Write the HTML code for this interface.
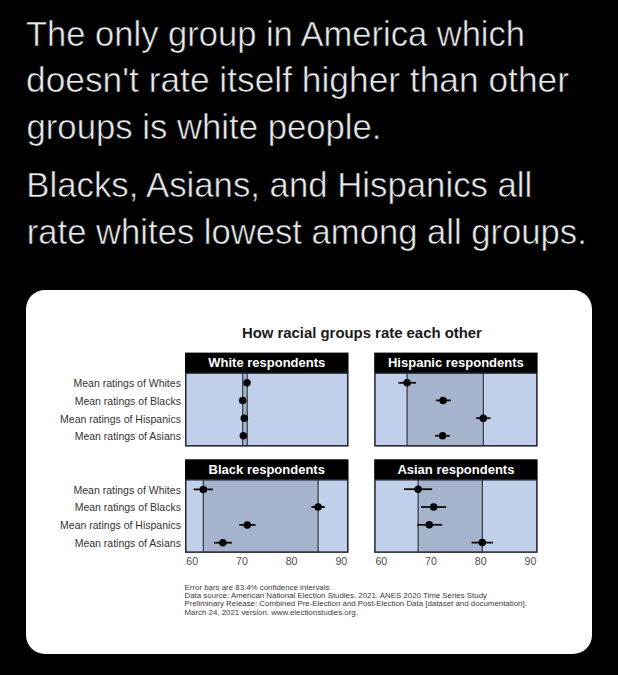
<!DOCTYPE html>
<html><head><meta charset="utf-8"><style>
html,body{margin:0;padding:0;background:#000;width:618px;height:675px;overflow:hidden}
svg{position:absolute;left:0;top:0;font-family:'Liberation Sans',sans-serif}
text{font-family:'Liberation Sans',sans-serif}
</style></head><body>
<svg width="618" height="675" viewBox="0 0 618 675">
<text x="26.0" y="45.5" textLength="499" lengthAdjust="spacingAndGlyphs" style="font-size:35.3px;fill:#e7e9ea;stroke:#000;stroke-width:0.55px">The only group in America which</text>
<text x="26.0" y="92.0" textLength="543" lengthAdjust="spacingAndGlyphs" style="font-size:35.3px;fill:#e7e9ea;stroke:#000;stroke-width:0.55px">doesn't rate itself higher than other</text>
<text x="26.5" y="138.5" textLength="355" lengthAdjust="spacingAndGlyphs" style="font-size:35.3px;fill:#e7e9ea;stroke:#000;stroke-width:0.55px">groups is white people.</text>
<text x="26.3" y="197.1" textLength="506" lengthAdjust="spacingAndGlyphs" style="font-size:35.3px;fill:#e7e9ea;stroke:#000;stroke-width:0.55px">Blacks, Asians, and Hispanics all</text>
<text x="26.8" y="244.0" textLength="560" lengthAdjust="spacingAndGlyphs" style="font-size:35.3px;fill:#e7e9ea;stroke:#000;stroke-width:0.55px">rate whites lowest among all groups.</text>
<rect x="26" y="290" width="566" height="364" rx="19" ry="19" fill="#fff"/>
<text x="361.9" y="338.2" text-anchor="middle" style="font-size:14.9px;font-weight:bold;fill:#1a1a1a">How racial groups rate each other</text>
<rect x="185.0" y="352.6" width="163.5" height="20.5" fill="#000"/>
<text x="266.75" y="366.90000000000003" text-anchor="middle" style="font-size:13px;font-weight:bold;fill:#fff">White respondents</text>
<rect x="185.0" y="373.1" width="163.5" height="73.5" fill="#c1d0ea"/>
<rect x="242.7" y="373.1" width="4.5" height="73.5" fill="#a5b3cc"/>
<line x1="242.7" y1="373.1" x2="242.7" y2="445.6" stroke="#262b36" stroke-width="1.1"/>
<line x1="247.2" y1="373.1" x2="247.2" y2="445.6" stroke="#262b36" stroke-width="1.1"/>
<rect x="185.75" y="373.1" width="162.0" height="72.7" fill="none" stroke="#23262f" stroke-width="1.5"/>
<line x1="245" y1="382.8" x2="249" y2="382.8" stroke="#000" stroke-width="1.7"/>
<circle cx="247.0" cy="382.8" r="3.75" fill="#000"/>
<line x1="241" y1="400.6" x2="244.5" y2="400.6" stroke="#000" stroke-width="1.7"/>
<circle cx="242.7" cy="400.6" r="3.75" fill="#000"/>
<line x1="242.5" y1="418.3" x2="246" y2="418.3" stroke="#000" stroke-width="1.7"/>
<circle cx="244.3" cy="418.3" r="3.75" fill="#000"/>
<line x1="241.5" y1="435.8" x2="245" y2="435.8" stroke="#000" stroke-width="1.7"/>
<circle cx="243.3" cy="435.8" r="3.75" fill="#000"/>
<rect x="374.2" y="352.6" width="163.40000000000003" height="20.5" fill="#000"/>
<text x="455.9" y="366.90000000000003" text-anchor="middle" style="font-size:13px;font-weight:bold;fill:#fff">Hispanic respondents</text>
<rect x="374.2" y="373.1" width="163.40000000000003" height="73.5" fill="#c1d0ea"/>
<rect x="407.1" y="373.1" width="76.19999999999999" height="73.5" fill="#a5b3cc"/>
<line x1="407.1" y1="373.1" x2="407.1" y2="445.6" stroke="#262b36" stroke-width="1.1"/>
<line x1="483.3" y1="373.1" x2="483.3" y2="445.6" stroke="#262b36" stroke-width="1.1"/>
<rect x="374.95" y="373.1" width="161.90000000000003" height="72.7" fill="none" stroke="#23262f" stroke-width="1.5"/>
<line x1="398.4" y1="382.8" x2="415.9" y2="382.8" stroke="#000" stroke-width="1.7"/>
<circle cx="407.1" cy="382.8" r="3.75" fill="#000"/>
<line x1="435.8" y1="400.4" x2="450.8" y2="400.4" stroke="#000" stroke-width="1.7"/>
<circle cx="443.1" cy="400.4" r="3.75" fill="#000"/>
<line x1="476.0" y1="418.2" x2="490.6" y2="418.2" stroke="#000" stroke-width="1.7"/>
<circle cx="483.3" cy="418.2" r="3.75" fill="#000"/>
<line x1="435.0" y1="435.8" x2="450.0" y2="435.8" stroke="#000" stroke-width="1.7"/>
<circle cx="442.6" cy="435.8" r="3.75" fill="#000"/>
<rect x="185.0" y="459.3" width="163.5" height="20.5" fill="#000"/>
<text x="266.75" y="473.6" text-anchor="middle" style="font-size:13px;font-weight:bold;fill:#fff">Black respondents</text>
<rect x="185.0" y="479.8" width="163.5" height="73.09999999999997" fill="#c1d0ea"/>
<rect x="203.3" y="479.8" width="114.80000000000001" height="73.09999999999997" fill="#a5b3cc"/>
<line x1="203.3" y1="479.8" x2="203.3" y2="551.9" stroke="#262b36" stroke-width="1.1"/>
<line x1="318.1" y1="479.8" x2="318.1" y2="551.9" stroke="#262b36" stroke-width="1.1"/>
<rect x="185.75" y="479.8" width="162.0" height="72.29999999999997" fill="none" stroke="#23262f" stroke-width="1.5"/>
<line x1="193.7" y1="489.4" x2="213.0" y2="489.4" stroke="#000" stroke-width="1.7"/>
<circle cx="203.3" cy="489.4" r="3.75" fill="#000"/>
<line x1="311.4" y1="507.0" x2="325.0" y2="507.0" stroke="#000" stroke-width="1.7"/>
<circle cx="318.1" cy="507.0" r="3.75" fill="#000"/>
<line x1="239.2" y1="524.9" x2="255.5" y2="524.9" stroke="#000" stroke-width="1.7"/>
<circle cx="247.3" cy="524.9" r="3.75" fill="#000"/>
<line x1="214.0" y1="542.7" x2="232.0" y2="542.7" stroke="#000" stroke-width="1.7"/>
<circle cx="222.9" cy="542.7" r="3.75" fill="#000"/>
<rect x="374.2" y="459.3" width="163.40000000000003" height="20.5" fill="#000"/>
<text x="455.9" y="473.6" text-anchor="middle" style="font-size:13px;font-weight:bold;fill:#fff">Asian respondents</text>
<rect x="374.2" y="479.8" width="163.40000000000003" height="73.09999999999997" fill="#c1d0ea"/>
<rect x="418.1" y="479.8" width="64.19999999999999" height="73.09999999999997" fill="#a5b3cc"/>
<line x1="418.1" y1="479.8" x2="418.1" y2="551.9" stroke="#262b36" stroke-width="1.1"/>
<line x1="482.3" y1="479.8" x2="482.3" y2="551.9" stroke="#262b36" stroke-width="1.1"/>
<rect x="374.95" y="479.8" width="161.90000000000003" height="72.29999999999997" fill="none" stroke="#23262f" stroke-width="1.5"/>
<line x1="404.0" y1="489.2" x2="432.2" y2="489.2" stroke="#000" stroke-width="1.7"/>
<circle cx="418.1" cy="489.2" r="3.75" fill="#000"/>
<line x1="421.0" y1="507.0" x2="446.2" y2="507.0" stroke="#000" stroke-width="1.7"/>
<circle cx="433.6" cy="507.0" r="3.75" fill="#000"/>
<line x1="417.0" y1="524.8" x2="442.1" y2="524.8" stroke="#000" stroke-width="1.7"/>
<circle cx="429.2" cy="524.8" r="3.75" fill="#000"/>
<line x1="471.5" y1="542.6" x2="493.0" y2="542.6" stroke="#000" stroke-width="1.7"/>
<circle cx="482.3" cy="542.6" r="3.75" fill="#000"/>
<text x="180.9" y="387.3" text-anchor="end" style="font-size:10.5px;fill:#333">Mean ratings of Whites</text>
<text x="180.9" y="493.8" text-anchor="end" style="font-size:10.5px;fill:#333">Mean ratings of Whites</text>
<text x="180.9" y="404.9" text-anchor="end" style="font-size:10.5px;fill:#333">Mean ratings of Blacks</text>
<text x="180.9" y="511.4" text-anchor="end" style="font-size:10.5px;fill:#333">Mean ratings of Blacks</text>
<text x="180.9" y="422.5" text-anchor="end" style="font-size:10.5px;fill:#333">Mean ratings of Hispanics</text>
<text x="180.9" y="529.0" text-anchor="end" style="font-size:10.5px;fill:#333">Mean ratings of Hispanics</text>
<text x="180.9" y="440.1" text-anchor="end" style="font-size:10.5px;fill:#333">Mean ratings of Asians</text>
<text x="180.9" y="546.6" text-anchor="end" style="font-size:10.5px;fill:#333">Mean ratings of Asians</text>
<text x="192.2" y="565.2" text-anchor="middle" style="font-size:10.6px;fill:#4d4d4d">60</text>
<text x="241.9" y="565.2" text-anchor="middle" style="font-size:10.6px;fill:#4d4d4d">70</text>
<text x="291.6" y="565.2" text-anchor="middle" style="font-size:10.6px;fill:#4d4d4d">80</text>
<text x="341.3" y="565.2" text-anchor="middle" style="font-size:10.6px;fill:#4d4d4d">90</text>
<text x="381.3" y="565.2" text-anchor="middle" style="font-size:10.6px;fill:#4d4d4d">60</text>
<text x="431.0" y="565.2" text-anchor="middle" style="font-size:10.6px;fill:#4d4d4d">70</text>
<text x="480.7" y="565.2" text-anchor="middle" style="font-size:10.6px;fill:#4d4d4d">80</text>
<text x="530.4" y="565.2" text-anchor="middle" style="font-size:10.6px;fill:#4d4d4d">90</text>
<text x="184.5" y="589.6" style="font-size:7.88px;fill:#3a3a3a">Error bars are 83.4% confidence intervals</text>
<text x="184.5" y="598.0" style="font-size:7.88px;fill:#3a3a3a">Data source: American National Election Studies. 2021. ANES 2020 Time Series Study</text>
<text x="184.5" y="606.4" style="font-size:7.88px;fill:#3a3a3a">Preliminary Release: Combined Pre-Election and Post-Election Data [dataset and documentation].</text>
<text x="184.5" y="614.8" style="font-size:7.88px;fill:#3a3a3a">March 24, 2021 version. www.electionstudies.org.</text>
</svg>
</body></html>
